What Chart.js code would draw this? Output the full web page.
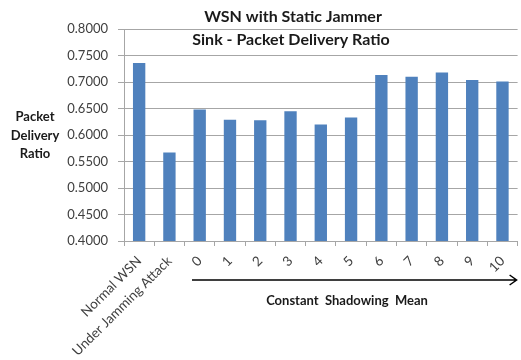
<!DOCTYPE html>
<html>
<head>
<meta charset="utf-8">
<script src="https://cdn.jsdelivr.net/npm/chart.js@4/dist/chart.umd.min.js"></script>
<style>
  html, body { margin: 0; padding: 0; background: #ffffff; }
  canvas { display: block; }
</style>
</head>
<body>
<canvas id="pdrChart" width="521" height="360"></canvas>
<script>
// Packet delivery ratio at the sink, per scenario
const categories = ['Normal WSN', 'Under Jamming Attack', '0', '1', '2', '3', '4', '5', '6', '7', '8', '9', '10'];
const pdrValues = [0.736, 0.567, 0.648, 0.629, 0.628, 0.645, 0.620, 0.633, 0.713, 0.710, 0.718, 0.704, 0.701];
const yRange = [0.4, 0.8];
const yStep = 0.05;
const titleLines = ['WSN with Static Jammer', 'Sink - Packet Delivery Ratio'];
const yAxisTitleLines = ['Packet', 'Delivery', 'Ratio'];
const xAxisTitle = 'Constant  Shadowing  Mean';

const FONT = 'Lato, "Liberation Sans", sans-serif';
const TEXT_DARK = '#1a1a1a';
const TICK_TEXT = '#404040';
const GRID = '#a6a6a6';

// Titles, horizontal y-axis caption and the arrowed x-axis caption
const decorations = {
  id: 'decorations',
  afterDraw(chart) {
    const ctx = chart.ctx;
    const area = chart.chartArea;
    ctx.save();
    ctx.fillStyle = TEXT_DARK;
    ctx.textAlign = 'center';
    ctx.textBaseline = 'middle';

    ctx.font = 'bold 16px ' + FONT;
    ctx.fillText(titleLines[0], 293, 17);
    ctx.fillText(titleLines[1], 291, 40);

    ctx.font = 'bold 13px ' + FONT;
    yAxisTitleLines.forEach((t, i) => ctx.fillText(t, 35, 117 + i * 18.5));

    // arrow under the shadowing-mean categories
    const x0 = 192, x1 = area.right - 1, y = 280;
    ctx.strokeStyle = '#000000';
    ctx.lineWidth = 1.5;
    ctx.beginPath();
    ctx.moveTo(x0, y);
    ctx.lineTo(x1, y);
    ctx.moveTo(x1 - 7, y - 5);
    ctx.lineTo(x1, y);
    ctx.lineTo(x1 - 7, y + 5);
    ctx.stroke();

    ctx.font = 'bold 13px ' + FONT;
    ctx.fillText(xAxisTitle, 347, 301);
    ctx.restore();
  }
};

new Chart(document.getElementById('pdrChart'), {
  type: 'bar',
  data: {
    labels: categories,
    datasets: [{
      data: pdrValues,
      backgroundColor: '#4f81bd',
      borderWidth: 0,
      barPercentage: 0.8,
      categoryPercentage: 0.51
    }]
  },
  options: {
    responsive: false,
    animation: false,
    devicePixelRatio: 1,
    layout: { padding: { top: 29, right: 2, left: 0, bottom: 0 } },
    plugins: {
      legend: { display: false },
      title: { display: false },
      tooltip: { enabled: false }
    },
    scales: {
      x: {
        offset: true,
        afterFit(scale) { scale.height = 119; },
        grid: {
          drawOnChartArea: false,
          drawTicks: true,
          tickLength: 5,
          color: GRID,
          offset: true
        },
        border: { display: true, color: GRID, width: 1 },
        ticks: {
          minRotation: 45,
          maxRotation: 45,
          autoSkip: false,
          padding: 7,
          color: TICK_TEXT,
          font: { family: FONT, size: 13.5 }
        }
      },
      y: {
        min: yRange[0],
        max: yRange[1],
        afterFit(scale) { scale.width = 124; },
        grid: {
          color: GRID,
          lineWidth: 1,
          drawTicks: true,
          tickLength: 6
        },
        border: { display: true, color: GRID, width: 1 },
        ticks: {
          stepSize: yStep,
          padding: 10,
          color: TICK_TEXT,
          font: { family: FONT, size: 13 },
          callback: (v) => Number(v).toFixed(4)
        }
      }
    }
  },
  plugins: [decorations]
});
</script>
</body>
</html>
